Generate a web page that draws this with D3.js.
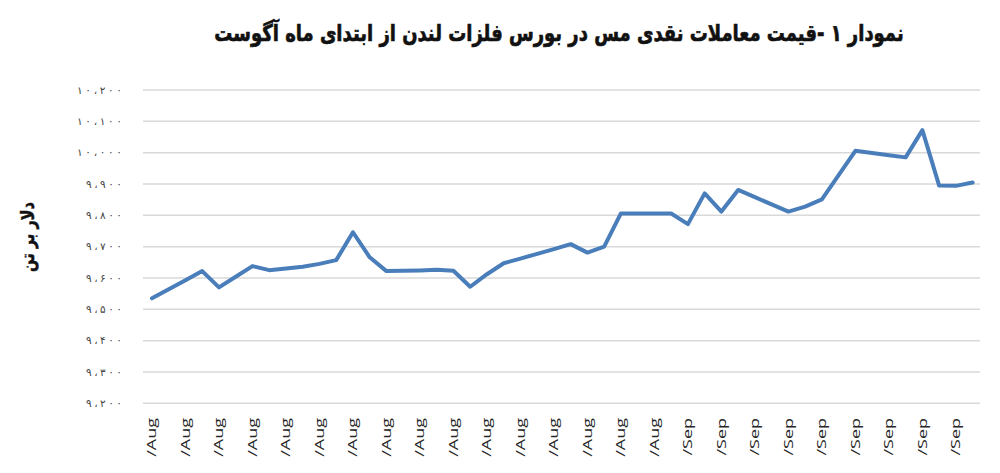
<!DOCTYPE html>
<html>
<head>
<meta charset="utf-8">
<script src="https://cdn.jsdelivr.net/npm/d3@7"></script>
<style>
  body { margin: 0; background: #fff; }
  svg { display: block; }
  .grid line { stroke: #d9d9d9; stroke-width: 1.5; }
</style>
</head>
<body>
<svg id="chart" width="1000" height="473"></svg>
<script>
// dates on the x axis (only every other one gets a label)
var dates = [
  "1/Aug","2/Aug","3/Aug","4/Aug","5/Aug","6/Aug","7/Aug","8/Aug","9/Aug","10/Aug",
  "11/Aug","12/Aug","13/Aug","14/Aug","15/Aug","16/Aug","17/Aug","18/Aug","19/Aug","20/Aug",
  "21/Aug","22/Aug","23/Aug","24/Aug","25/Aug","26/Aug","27/Aug","28/Aug","29/Aug","30/Aug",
  "31/Aug","1/Sep","2/Sep","3/Sep","4/Sep","5/Sep","6/Sep","7/Sep","8/Sep","9/Sep",
  "10/Sep","11/Sep","12/Sep","13/Sep","14/Sep","15/Sep","16/Sep","17/Sep","18/Sep","19/Sep"
];
// cash price, dollars per tonne
var prices = [
  9535, 9564, 9593, 9622, 9570, 9604, 9638, 9625, 9630, 9636,
  9645, 9657, 9746, 9666, 9622, 9623, 9624, 9626, 9623, 9572,
  9612, 9647, 9662, 9677, 9692, 9708, 9681, 9700, 9806, 9806,
  9806, 9806, 9772, 9870, 9812, 9881, 9858, 9835, 9812, 9828,
  9851, 9928, 10006, 9999, 9992, 9985, 10072, 9895, 9894, 9905
];
var yTicks = [9200, 9300, 9400, 9500, 9600, 9700, 9800, 9900, 10000, 10100, 10200];

var title = "نمودار ۱ -قیمت معاملات نقدی مس در بورس فلزات لندن از ابتدای ماه آگوست";
var yTitle = "دلار بر تن";

var svg = d3.select("#chart");

var x = d3.scaleBand()
    .domain(dates)
    .range([143.6, 981]);

var y = d3.scaleLinear()
    .domain([9200, 10200])
    .range([403.3, 90]);

// persian digits with arabic comma
var faDigits = "۰۱۲۳۴۵۶۷۸۹";
function toFa(n) {
    var s = d3.format(",")(n).replace(/,/g, "،");
    return s.replace(/[0-9]/g, function (c) { return faDigits[+c]; });
}

// gridlines
svg.append("g")
    .attr("class", "grid")
    .selectAll("line")
    .data(yTicks)
    .enter().append("line")
    .attr("x1", 143)
    .attr("x2", 980)
    .attr("y1", function (d) { return y(d); })
    .attr("y2", function (d) { return y(d); });

// y tick labels, spaced out to the width of the original
svg.append("g")
    .selectAll("text")
    .data(yTicks)
    .enter().append("text")
    .attr("x", 122)
    .attr("y", function (d) { return y(d); })
    .attr("dy", "0.35em")
    .attr("text-anchor", "end")
    .style("font-family", "DejaVu Sans, sans-serif")
    .style("font-size", "10.5px")
    .style("fill", "#444")
    .text(toFa)
    .each(function () {
        var target = this.textContent.length === 6 ? 45 : 36;
        d3.select(this).attr("textLength", target).attr("lengthAdjust", "spacing");
    });

// x labels: the day part falls below the picture in the original, only "/Mon" shows
svg.append("g")
    .selectAll("text")
    .data(dates.filter(function (d, i) { return i % 2 === 0; }))
    .enter().append("text")
    .attr("transform", function (d) {
        return "translate(" + (x(d) + x.bandwidth() / 2) + ",418) rotate(-90) scale(1.5,1)";
    })
    .attr("dy", "0.35em")
    .attr("text-anchor", "end")
    .style("font-family", "Open Sans, sans-serif")
    .style("font-size", "12px")
    .style("fill", "#262626")
    .text(function (d) { return d.slice(d.indexOf("/")); });

// the line
var line = d3.line()
    .x(function (d, i) { return x(dates[i]) + x.bandwidth() / 2; })
    .y(function (d) { return y(d); });

svg.append("path")
    .datum(prices)
    .attr("d", line)
    .attr("fill", "none")
    .attr("stroke", "#4a7ebb")
    .attr("stroke-width", 4)
    .attr("stroke-linejoin", "round")
    .attr("stroke-linecap", "round");

// title
var t = svg.append("text")
    .attr("direction", "rtl")
    .attr("text-anchor", "middle")
    .attr("dy", "0.35em")
    .style("font-family", "DejaVu Sans, sans-serif")
    .style("font-weight", "bold")
    .style("font-size", "20px")
    .style("fill", "#111")
    .style("stroke", "#111")
    .style("stroke-width", 0.6)
    .text(title);
var tw = t.node().getComputedTextLength();
t.attr("transform", "translate(559,33) scale(" + (690 / tw) + ",1.15)");

// y axis title
var yt = svg.append("text")
    .attr("direction", "rtl")
    .attr("text-anchor", "middle")
    .attr("dy", "0.35em")
    .style("font-family", "DejaVu Sans, sans-serif")
    .style("font-weight", "bold")
    .style("font-size", "15px")
    .style("fill", "#111")
    .style("stroke", "#111")
    .style("stroke-width", 0.4)
    .text(yTitle);
var yw = yt.node().getComputedTextLength();
yt.attr("transform", "translate(27,237) rotate(-90) scale(" + (70 / yw) + ",1.25)");
</script>
</body>
</html>
